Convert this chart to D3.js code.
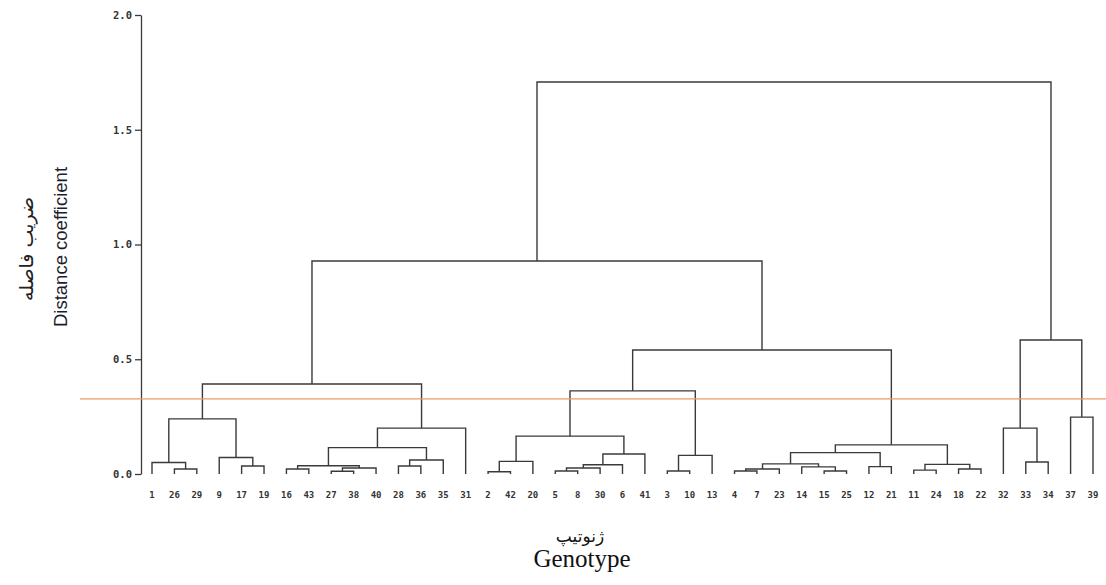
<!DOCTYPE html>
<html>
<head>
<meta charset="utf-8">
<script src="https://cdn.jsdelivr.net/npm/d3@7"></script>
<style>
  body { margin: 0; background: #fff; }
  svg { display: block; }
</style>
</head>
<body>
<div id="chart"></div>
<script>
// SETUP
const width = 1106;
const height = 585;

// --- DATA ---
// leaf order along the bottom
const leafOrder = ["1", "26", "29", "9", "17", "19", "16", "43", "27", "38", "40", "28", "36", "35", "31",
    "2", "42", "20", "5", "8", "30", "6", "41", "3", "10", "13",
    "4", "7", "23", "14", "15", "25", "12", "21", "11", "24", "18", "22",
    "32", "33", "34", "37", "39"];

// merges: [left, right, height]; "m#" points to an earlier merge
const merges = [
    ["26", "29", 0.022],   // m0
    ["1", "m0", 0.05],     // m1
    ["17", "19", 0.035],   // m2
    ["9", "m2", 0.072],    // m3
    ["m1", "m3", 0.24],    // m4
    ["16", "43", 0.022],   // m5
    ["27", "38", 0.012],   // m6
    ["m6", "40", 0.026],   // m7
    ["m5", "m7", 0.036],   // m8
    ["28", "36", 0.035],   // m9
    ["m9", "35", 0.061],   // m10
    ["m8", "m10", 0.115],  // m11
    ["m11", "31", 0.2],    // m12
    ["m4", "m12", 0.392],  // m13
    ["2", "42", 0.01],     // m14
    ["m14", "20", 0.055],  // m15
    ["5", "8", 0.013],     // m16
    ["m16", "30", 0.026],  // m17
    ["m17", "6", 0.04],    // m18
    ["m18", "41", 0.087],  // m19
    ["m15", "m19", 0.165], // m20
    ["3", "10", 0.013],    // m21
    ["m21", "13", 0.081],  // m22
    ["m20", "m22", 0.362], // m23
    ["4", "7", 0.013],     // m24
    ["m24", "23", 0.022],  // m25
    ["15", "25", 0.013],   // m26
    ["14", "m26", 0.031],  // m27
    ["m25", "m27", 0.044], // m28
    ["12", "21", 0.032],   // m29
    ["m28", "m29", 0.093], // m30
    ["11", "24", 0.017],   // m31
    ["18", "22", 0.022],   // m32
    ["m31", "m32", 0.042], // m33
    ["m30", "m33", 0.127], // m34
    ["m23", "m34", 0.54],  // m35
    ["m13", "m35", 0.928], // m36
    ["33", "34", 0.052],   // m37
    ["32", "m37", 0.2],    // m38
    ["37", "39", 0.248],   // m39
    ["m38", "m39", 0.584], // m40
    ["m36", "m40", 1.708]  // m41
];

const yTicks = [0, 0.5, 1.0, 1.5, 2.0];
const cutHeight = 0.327;

const svg = d3.select("#chart")
    .append("svg")
    .attr("width", width)
    .attr("height", height)
    .attr("viewBox", [0, 0, width, height]);

// --- SCALES ---
const x = d3.scalePoint()
    .domain(leafOrder)
    .range([152, 1093]);

const y = d3.scaleLinear()
    .domain([0, 2])
    .range([474, 15]);

// --- AXIS ---
const yAxis = svg.append("g")
    .attr("transform", "translate(141,0)")
    .call(d3.axisLeft(y)
        .tickValues(yTicks)
        .tickFormat(d3.format(".1f"))
        .tickSize(6)
        .tickSizeOuter(0)
        .tickPadding(3));
yAxis.selectAll("path, line").attr("stroke", "#3a3a3a").attr("stroke-width", 1.3);
yAxis.selectAll("text")
    .attr("font-family", "DejaVu Sans Mono, monospace")
    .attr("font-weight", "bold")
    .attr("font-size", "10.5px")
    .attr("fill", "#333");

// --- DENDROGRAM ---
// position of every node: leaves from the scale, merges in the middle of their children
const pos = {};
leafOrder.forEach(d => { pos[d] = { x: x(d), h: 0 }; });
merges.forEach((m, i) => {
    const a = pos[m[0]], b = pos[m[1]];
    pos["m" + i] = { x: (a.x + b.x) / 2, h: m[2], a, b };
});

svg.append("g")
    .selectAll("path")
    .data(merges.map((m, i) => pos["m" + i]))
    .join("path")
    .attr("d", d => `M${d.a.x},${y(d.a.h)}V${y(d.h)}H${d.b.x}V${y(d.b.h)}`)
    .attr("fill", "none")
    .attr("stroke", "#3a3a3a")
    .attr("stroke-width", 1.4);

// cut line
svg.append("line")
    .attr("x1", 80)
    .attr("x2", width)
    .attr("y1", y(cutHeight))
    .attr("y2", y(cutHeight))
    .attr("stroke", "#ec9a66")
    .attr("stroke-width", 1.2);

// leaf labels
svg.append("g")
    .selectAll("text")
    .data(leafOrder)
    .join("text")
    .attr("x", d => x(d))
    .attr("y", 498)
    .attr("text-anchor", "middle")
    .attr("font-family", "DejaVu Sans Mono, monospace")
    .attr("font-weight", "bold")
    .attr("font-size", "9px")
    .attr("fill", "#333")
    .text(d => d);

// --- TITLES ---
svg.append("text")
    .attr("transform", "translate(67,247) rotate(-90)")
    .attr("text-anchor", "middle")
    .attr("font-family", "Liberation Sans, Arial, sans-serif")
    .attr("font-size", "18.5px")
    .attr("fill", "#1c1c2e")
    .text("Distance coefficient");

svg.append("text")
    .attr("transform", "translate(33,249) rotate(-90)")
    .attr("text-anchor", "middle")
    .attr("font-family", "DejaVu Sans, sans-serif")
    .attr("font-size", "19px")
    .attr("fill", "#222")
    .text("ضریب فاصله");

svg.append("text")
    .attr("x", 580)
    .attr("y", 542)
    .attr("text-anchor", "middle")
    .attr("font-family", "DejaVu Sans, serif")
    .attr("font-size", "17px")
    .attr("fill", "#111")
    .text("ژنوتیپ");

svg.append("text")
    .attr("x", 582)
    .attr("y", 567)
    .attr("text-anchor", "middle")
    .attr("font-family", "Liberation Serif, Times New Roman, serif")
    .attr("font-size", "25px")
    .attr("fill", "#111")
    .text("Genotype");
</script>
</body>
</html>
